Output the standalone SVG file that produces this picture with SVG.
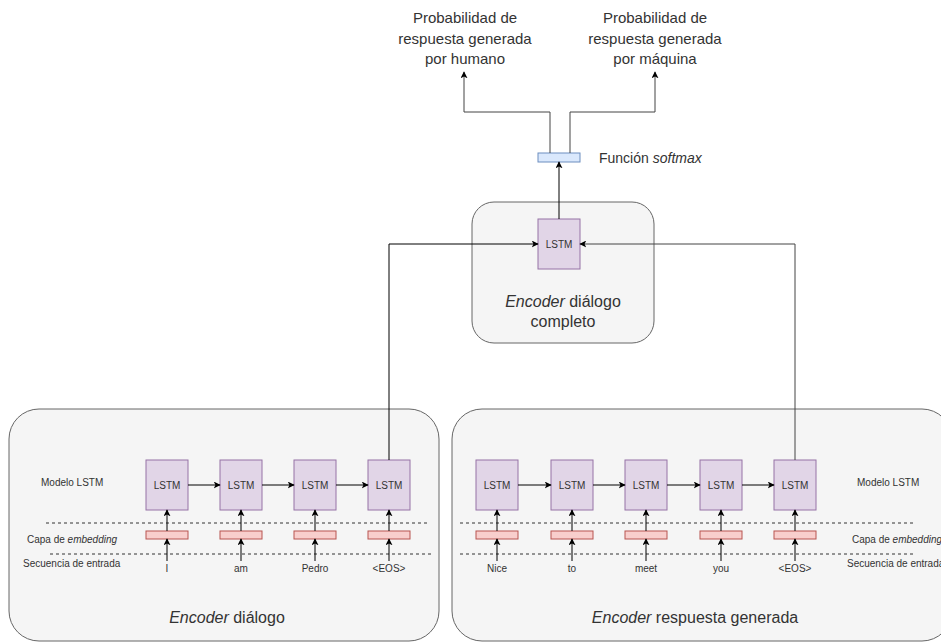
<svg xmlns="http://www.w3.org/2000/svg" width="941" height="642" viewBox="0 0 941 642">
<defs>
<marker id="ah" viewBox="0 0 10 10" refX="9" refY="5" markerWidth="7" markerHeight="7" markerUnits="userSpaceOnUse" orient="auto">
<path d="M0,0 L10,5 L0,10 L2.5,5 Z" fill="#000"/>
</marker>
<style>
text{font-family:"Liberation Sans",Arial,sans-serif;fill:#333}
.cont{fill:#f5f5f5;stroke:#666;stroke-width:1}
.lstm{fill:#e1d5e7;stroke:#9673a6;stroke-width:1}
.emb{fill:#f8cecc;stroke:#b85450;stroke-width:1}
.sm{fill:#dae8fc;stroke:#6c8ebf;stroke-width:1}
.c{fill:none;stroke:#000;stroke-width:1}
.cg{fill:none;stroke:#444;stroke-width:1}
.dash{stroke:#333;stroke-width:1;stroke-dasharray:3,3}
.lt{font-size:10px;text-anchor:middle;dominant-baseline:central}
.sl{font-size:10px;dominant-baseline:central}
.big{font-size:16px;text-anchor:middle;dominant-baseline:central}
.top{font-size:15px;text-anchor:middle;dominant-baseline:central}
</style>
</defs>

<g id="enc-dialogo">
<rect class="cont" x="9" y="409" width="430" height="232" rx="30"/>
<text class="big" x="227" y="617"><tspan font-style="italic">Encoder</tspan> diálogo</text>
<text class="sl" x="41" y="482">Modelo LSTM</text>
<text class="sl" x="27" y="539">Capa de <tspan font-style="italic">embedding</tspan></text>
<text class="sl" x="23" y="563">Secuencia de entrada</text>
<line class="dash" x1="46" y1="523" x2="427" y2="523"/>
<line class="dash" x1="50" y1="554" x2="431" y2="554"/>
</g>

<g id="enc-respuesta">
<rect class="cont" x="452" y="409" width="500" height="232" rx="30"/>
<text class="big" x="695" y="617"><tspan font-style="italic">Encoder</tspan> respuesta generada</text>
<text class="sl" x="857" y="482">Modelo LSTM</text>
<text class="sl" x="852" y="539">Capa de <tspan font-style="italic">embedding</tspan></text>
<text class="sl" x="847" y="563">Secuencia de entrada</text>
<line class="dash" x1="460" y1="523" x2="915" y2="523"/>
<line class="dash" x1="460" y1="554" x2="915" y2="554"/>
</g>

<g id="enc-completo">
<rect class="cont" x="472" y="202" width="182" height="141" rx="22"/>
<text class="big" x="563" y="301"><tspan font-style="italic">Encoder</tspan> diálogo</text>
<text class="big" x="563" y="321">completo</text>
</g>

<g id="lstm-top"><rect class="lstm" x="538" y="219" width="42" height="50"/><text class="lt" x="559" y="244">LSTM</text></g>

<g id="softmax">
<rect class="sm" x="538" y="153" width="42" height="9"/>
<text x="599" y="158" font-size="14" dominant-baseline="central">Función <tspan font-style="italic">softmax</tspan></text>
</g>

<g id="out-humano">
<text class="top" x="465" y="17">Probabilidad de</text>
<text class="top" x="465" y="38">respuesta generada</text>
<text class="top" x="465" y="58">por humano</text>
</g>
<g id="out-maquina">
<text class="top" x="655" y="17">Probabilidad de</text>
<text class="top" x="655" y="38">respuesta generada</text>
<text class="top" x="655" y="58">por máquina</text>
</g>

<g id="l1"><rect class="lstm" x="146" y="460" width="42" height="50"/><text class="lt" x="167" y="485">LSTM</text><rect class="emb" x="146" y="531" width="42" height="8"/><text class="lt" x="167" y="568">I</text></g>
<g id="l2"><rect class="lstm" x="220" y="460" width="42" height="50"/><text class="lt" x="241" y="485">LSTM</text><rect class="emb" x="220" y="531" width="42" height="8"/><text class="lt" x="241" y="568">am</text></g>
<g id="l3"><rect class="lstm" x="294" y="460" width="42" height="50"/><text class="lt" x="315" y="485">LSTM</text><rect class="emb" x="294" y="531" width="42" height="8"/><text class="lt" x="315" y="568">Pedro</text></g>
<g id="l4"><rect class="lstm" x="368" y="460" width="42" height="50"/><text class="lt" x="389" y="485">LSTM</text><rect class="emb" x="368" y="531" width="42" height="8"/><text class="lt" x="389" y="568">&lt;EOS&gt;</text></g>

<g id="r1"><rect class="lstm" x="476" y="460" width="42" height="50"/><text class="lt" x="497" y="485">LSTM</text><rect class="emb" x="476" y="531" width="42" height="8"/><text class="lt" x="497" y="568">Nice</text></g>
<g id="r2"><rect class="lstm" x="551" y="460" width="42" height="50"/><text class="lt" x="572" y="485">LSTM</text><rect class="emb" x="551" y="531" width="42" height="8"/><text class="lt" x="572" y="568">to</text></g>
<g id="r3"><rect class="lstm" x="625" y="460" width="42" height="50"/><text class="lt" x="646" y="485">LSTM</text><rect class="emb" x="625" y="531" width="42" height="8"/><text class="lt" x="646" y="568">meet</text></g>
<g id="r4"><rect class="lstm" x="700" y="460" width="42" height="50"/><text class="lt" x="721" y="485">LSTM</text><rect class="emb" x="700" y="531" width="42" height="8"/><text class="lt" x="721" y="568">you</text></g>
<g id="r5"><rect class="lstm" x="774" y="460" width="42" height="50"/><text class="lt" x="795" y="485">LSTM</text><rect class="emb" x="774" y="531" width="42" height="8"/><text class="lt" x="795" y="568">&lt;EOS&gt;</text></g>

<g id="connectors">
<!-- left chain -->
<line class="c" x1="188" y1="485" x2="220" y2="485" marker-end="url(#ah)"/>
<line class="c" x1="262" y1="485" x2="294" y2="485" marker-end="url(#ah)"/>
<line class="c" x1="336" y1="485" x2="368" y2="485" marker-end="url(#ah)"/>
<!-- right chain -->
<line class="c" x1="518" y1="485" x2="551" y2="485" marker-end="url(#ah)"/>
<line class="c" x1="593" y1="485" x2="625" y2="485" marker-end="url(#ah)"/>
<line class="c" x1="667" y1="485" x2="700" y2="485" marker-end="url(#ah)"/>
<line class="c" x1="742" y1="485" x2="774" y2="485" marker-end="url(#ah)"/>
<!-- vertical left -->
<line class="c" x1="167" y1="531" x2="167" y2="510" marker-end="url(#ah)"/>
<line class="c" x1="167" y1="561" x2="167" y2="539" marker-end="url(#ah)"/>
<line class="c" x1="241" y1="531" x2="241" y2="510" marker-end="url(#ah)"/>
<line class="c" x1="241" y1="561" x2="241" y2="539" marker-end="url(#ah)"/>
<line class="c" x1="315" y1="531" x2="315" y2="510" marker-end="url(#ah)"/>
<line class="c" x1="315" y1="561" x2="315" y2="539" marker-end="url(#ah)"/>
<line class="c" x1="389" y1="531" x2="389" y2="510" marker-end="url(#ah)"/>
<line class="c" x1="389" y1="561" x2="389" y2="539" marker-end="url(#ah)"/>
<!-- vertical right -->
<line class="c" x1="497" y1="531" x2="497" y2="510" marker-end="url(#ah)"/>
<line class="c" x1="497" y1="561" x2="497" y2="539" marker-end="url(#ah)"/>
<line class="c" x1="572" y1="531" x2="572" y2="510" marker-end="url(#ah)"/>
<line class="c" x1="572" y1="561" x2="572" y2="539" marker-end="url(#ah)"/>
<line class="c" x1="646" y1="531" x2="646" y2="510" marker-end="url(#ah)"/>
<line class="c" x1="646" y1="561" x2="646" y2="539" marker-end="url(#ah)"/>
<line class="c" x1="721" y1="531" x2="721" y2="510" marker-end="url(#ah)"/>
<line class="c" x1="721" y1="561" x2="721" y2="539" marker-end="url(#ah)"/>
<line class="c" x1="795" y1="531" x2="795" y2="510" marker-end="url(#ah)"/>
<line class="c" x1="795" y1="561" x2="795" y2="539" marker-end="url(#ah)"/>
<!-- to top LSTM -->
<path class="c" d="M389,460 V244 H538" marker-end="url(#ah)"/>
<path class="cg" d="M795,460 V244 H580" marker-end="url(#ah)"/>
<line class="c" x1="559" y1="219" x2="559" y2="162" marker-end="url(#ah)"/>
<!-- softmax outputs -->
<path class="cg" d="M550,153 V112 H464 V72" marker-end="url(#ah)"/>
<path class="cg" d="M570,153 V112 H655 V72" marker-end="url(#ah)"/>
</g>
</svg>
